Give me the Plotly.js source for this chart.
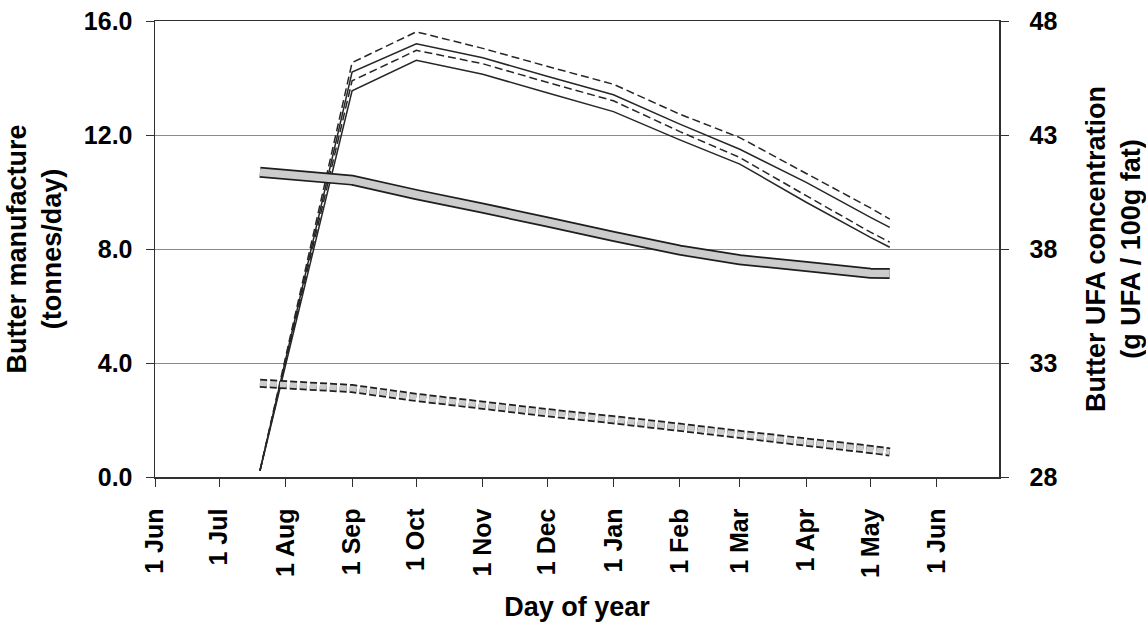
<!DOCTYPE html>
<html>
<head>
<meta charset="utf-8">
<script src="https://cdn.plot.ly/plotly-3.0.1.min.js"></script>
<style>
  html, body { margin: 0; padding: 0; background: #fff; }
  #chart { width: 1146px; height: 622px; }
</style>
</head>
<body>
<div id="chart"></div>
<script>
// Season dates shared by every series
const seasonDates = ["2010-07-20", "2010-09-01", "2010-10-01", "2010-11-01", "2010-12-01",
  "2011-01-01", "2011-02-01", "2011-03-01", "2011-04-01", "2011-05-01", "2011-05-10"];

// Butter manufacture, tonnes/day (left axis)
const manufactureHighDash = [0.22, 14.54, 15.62, 15.04, 14.41, 13.78, 12.73, 11.91, 10.65, 9.44, 9.05];
const manufactureHighSolid = [0.22, 14.21, 15.20, 14.71, 14.06, 13.41, 12.38, 11.50, 10.34, 9.11, 8.76];
const manufactureLowDash = [0.22, 13.90, 14.97, 14.50, 13.85, 13.20, 12.12, 11.21, 9.87, 8.59, 8.24];
const manufactureLowSolid = [0.22, 13.55, 14.62, 14.13, 13.48, 12.82, 11.83, 10.98, 9.64, 8.41, 8.06];

// Butter UFA concentration, g UFA / 100 g fat (right axis)
const ufaSolid = [41.37, 41.02, 40.39, 39.79, 39.19, 38.55, 37.95, 37.53, 37.23, 36.94, 36.92];
const ufaDashed = [32.11, 31.88, 31.49, 31.15, 30.82, 30.51, 30.18, 29.87, 29.53, 29.21, 29.10];

// Axis ticks
const leftTicks = [0, 4, 8, 12, 16];
const rightTicks = [28, 33, 38, 43, 48];

const FONT = "Liberation Sans, Arial, sans-serif";
const INK = "#303030";

function thin(y, dash) {
  return {
    x: seasonDates, y: y, type: "scatter", mode: "lines", yaxis: "y",
    line: { color: "#262626", width: 1.5, dash: dash, simplify: false },
    hoverinfo: "skip", showlegend: false
  };
}
// Grey band with dark edges: a wide dark stroke under a narrower grey one
function band(y, dash, outerW, innerW) {
  return [
    { x: seasonDates, y: y, type: "scatter", mode: "lines", yaxis: "y2",
      line: { color: "#1e1e1e", width: outerW, dash: dash, simplify: false },
      hoverinfo: "skip", showlegend: false },
    { x: seasonDates, y: y, type: "scatter", mode: "lines", yaxis: "y2",
      line: { color: "#cccccc", width: innerW, dash: dash, simplify: false },
      hoverinfo: "skip", showlegend: false }
  ];
}

const data = [].concat(
  band(ufaSolid, "solid", 11, 7.5),
  band(ufaDashed, "7px,3px", 9, 5.5),
  [thin(manufactureHighDash, "8px,4px"),
   thin(manufactureHighSolid, "solid"),
   thin(manufactureLowDash, "8px,4px"),
   thin(manufactureLowSolid, "solid")]
);

const tickFont = { family: FONT, size: 25, color: "#000", weight: "bold" };
const titleFont = { family: FONT, size: 27, color: "#000", weight: "bold" };

const layout = {
  width: 1146, height: 622,
  margin: { l: 155, r: 147, t: 21, b: 145, pad: 0 },
  paper_bgcolor: "#fff", plot_bgcolor: "#fff",
  showlegend: false,
  xaxis: {
    type: "date",
    range: ["2010-06-01", "2011-06-30"],
    tick0: "2010-06-01", dtick: "M1",
    tickformat: "%-d %b",
    tickangle: -90,
    ticks: "outside", ticklen: 8, tickwidth: 1, tickcolor: INK,
    showline: true, linecolor: INK, linewidth: 1.5, mirror: true,
    showgrid: false, zeroline: false,
    tickfont: tickFont,
    ticklabelstandoff: 12,
    title: { text: "Day of year", font: titleFont, standoff: 20 }
  },
  yaxis: {
    range: [0, 16], tickvals: leftTicks, tickformat: ".1f",
    ticks: "outside", ticklen: 8, tickwidth: 1, tickcolor: INK,
    showline: true, linecolor: INK, linewidth: 1.5,
    showgrid: true, gridcolor: "#8a8a8a", gridwidth: 1,
    zeroline: false,
    tickfont: tickFont,
    ticklabelstandoff: 8,
    title: { text: "Butter manufacture<br>(tonnes/day)", font: titleFont, standoff: 14 }
  },
  yaxis2: {
    overlaying: "y", side: "right",
    range: [28, 48], tickvals: rightTicks,
    ticks: "outside", ticklen: 8, tickwidth: 1, tickcolor: INK,
    showline: true, linecolor: INK, linewidth: 1.5,
    showgrid: false, zeroline: false,
    tickfont: tickFont,
    ticklabelstandoff: 16,
    title: { text: "Butter UFA concentration<br>(g UFA / 100g fat)", font: titleFont, standoff: 36 }
  }
};

Plotly.newPlot("chart", data, layout, { staticPlot: true, displayModeBar: false });
</script>
</body>
</html>
